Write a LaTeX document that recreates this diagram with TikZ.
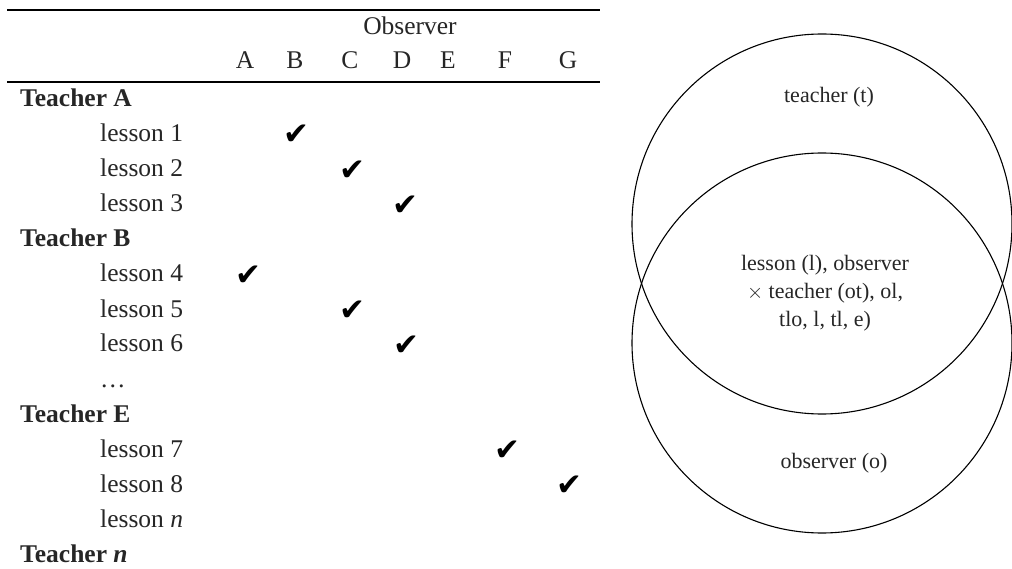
\documentclass[tikz,border=0pt]{standalone}
\usepackage{fontspec}
\setmainfont{Liberation Serif}
\newfontfamily\symf{DejaVu Sans}
\begin{document}
\begin{tikzpicture}[x=1pt,y=-1pt,
  tbl/.style={inner sep=0pt, font=\fontsize{25.5}{30}\selectfont, text=black!85},
  hdr/.style={tbl, anchor=base},
  teach/.style={tbl, anchor=base west, font=\fontsize{25.5}{30}\selectfont\bfseries},
  less/.style={tbl, anchor=base west},
  tick/.style={inner sep=0pt, font=\symf\fontsize{31}{34}\selectfont},
  venn/.style={line width=1.1pt},
  vtext/.style={inner sep=0pt, align=center, font=\fontsize{22}{28}\selectfont, text=black!85},
  rule/.style={line width=1.3pt}]
\useasboundingbox (0,0) rectangle (1012,569);
% table rules
\coordinate (r1a) at (7,10);  \coordinate (r1b) at (600,10);
\coordinate (r2a) at (7,82);  \coordinate (r2b) at (600,82);
\draw[rule] (r1a) -- (r1b);
\draw[rule] (r2a) -- (r2b);
% header
\node[hdr] (obs) at (410,35) {Observer};
\node[hdr] (cA) at (245,69) {A};
\node[hdr] (cB) at (295,69) {B};
\node[hdr] (cC) at (350,69) {C};
\node[hdr] (cD) at (402,69) {D};
\node[hdr] (cE) at (448,69) {E};
\node[hdr] (cF) at (505,69) {F};
\node[hdr] (cG) at (568,69) {G};
% rows (baseline = centre + 9)
\node[teach] (tA) at (20,107) {Teacher A};
\node[less] (l1) at (100,142) {lesson 1};
\node[less] (l2) at (100,177) {lesson 2};
\node[less] (l3) at (100,212) {lesson 3};
\node[teach] (tB) at (20,247) {Teacher B};
\node[less] (l4) at (100,282) {lesson 4};
\node[less] (l5) at (100,317) {lesson 5};
\node[less] (l6) at (100,352) {lesson 6};
\node[less] (dots) at (100,387) {…};
\node[teach] (tE) at (20,422) {Teacher E};
\node[less] (l7) at (100,457) {lesson 7};
\node[less] (l8) at (100,492) {lesson 8};
\node[less] (ln) at (100,527) {lesson \textit{n}};
\node[teach] (tn) at (20,562) {Teacher \textit{n}};
% ticks
\node[tick] (k1) at (296,135) {✔};
\node[tick] (k2) at (352,171) {✔};
\node[tick] (k3) at (405,206) {✔};
\node[tick] (k4) at (248,276) {✔};
\node[tick] (k5) at (352,311) {✔};
\node[tick] (k6) at (406,346) {✔};
\node[tick] (k7) at (507,451) {✔};
\node[tick] (k8) at (569,486) {✔};
% venn
\draw[venn] (822,224) circle (190pt);
\draw[venn] (822,343) circle (190pt);
\node[vtext] (vt) at (829,97) {teacher (t)};
\node[vtext] (vm) at (825,293) {lesson (l), observer\\$\times$ teacher (ot), ol,\\tlo, l, tl, e)};
\node[vtext] (vo) at (834,463) {observer (o)};
\end{tikzpicture}
\end{document}
